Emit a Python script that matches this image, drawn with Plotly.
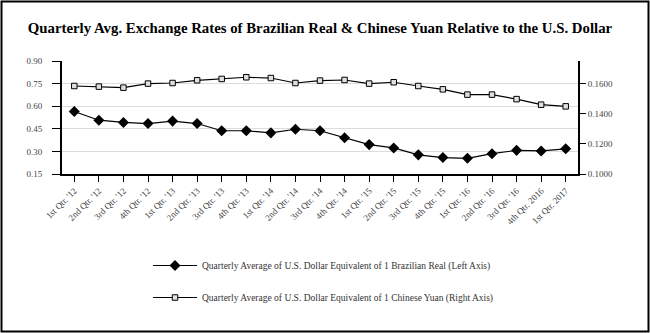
import plotly.graph_objects as go

quarters = ["1st Qtr. '12", "2nd Qtr. '12", "3rd Qtr. '12", "4th Qtr. '12",
            "1st Qtr. '13", "2nd Qtr. '13", "3rd Qtr. '13", "4th Qtr. '13",
            "1st Qtr. '14", "2nd Qtr. '14", "3rd Qtr. '14", "4th Qtr. '14",
            "1st Qtr. '15", "2nd Qtr. '15", "3rd Qtr. '15", "4th Qtr. '15",
            "1st Qtr. '16", "2nd Qtr. '16", "3rd Qtr. '16", "4th Qtr. 2016",
            "1st Qtr. 2017"]
brl = [0.565, 0.507, 0.492, 0.485, 0.501, 0.485, 0.437, 0.437, 0.423, 0.447,
       0.437, 0.390, 0.345, 0.323, 0.277, 0.259, 0.254, 0.285, 0.307, 0.303, 0.317]
cny = [0.1584, 0.1580, 0.1573, 0.1600, 0.1604, 0.1622, 0.1631, 0.1642, 0.1637, 0.1604,
       0.1620, 0.1624, 0.1600, 0.1609, 0.1584, 0.1562, 0.1527, 0.1527, 0.1497, 0.1460, 0.1449]

serif = "Liberation Serif, Times New Roman, serif"

fig = go.Figure()
fig.add_trace(go.Scatter(
    x=quarters, y=brl, mode="lines+markers",
    name="Quarterly Average of U.S. Dollar Equivalent of 1 Brazilian Real (Left Axis)",
    line=dict(color="black", width=1.2),
    marker=dict(symbol="diamond", size=8.5, color="black"),
    legendgroup="a", yaxis="y"))
fig.add_trace(go.Scatter(
    x=quarters, y=cny, mode="lines+markers",
    name="Quarterly Average of U.S. Dollar Equivalent of 1 Chinese Yuan (Right Axis)",
    line=dict(color="black", width=1.2),
    marker=dict(symbol="square", size=5.5, color="#e0e0e0", line=dict(color="black", width=1)),
    legendgroup="b", yaxis="y2"))

W0, W1, H0, H1 = 62, 578, 61, 174
pw, ph = W1 - W0, H1 - H0

def px(x):
    return (x - W0) / pw

def py(y):
    return (H1 - y) / ph

fig.update_layout(
    width=650, height=333,
    margin=dict(l=W0, r=650 - W1, t=H0, b=333 - H1, pad=0),
    paper_bgcolor="white", plot_bgcolor="white",
    font=dict(family=serif, color="#444", size=9),
    title=dict(text="<b>Quarterly Avg. Exchange Rates of Brazilian Real &amp; Chinese Yuan Relative to the U.S. Dollar</b>",
               x=0.5, xref="paper", xanchor="center", y=1 - 28 / 333, yanchor="middle",
               font=dict(family=serif, size=14.8, color="black")),
    xaxis=dict(type="category", range=[-0.5, len(quarters) - 0.5],
               showline=True, linecolor="black", linewidth=2,
               ticks="outside", ticklen=6, tickcolor="black", tickwidth=1,
               tickangle=-45, showgrid=False, tickfont=dict(size=9, color="#444")),
    yaxis=dict(range=[0.15, 0.90], tickvals=[0.15, 0.30, 0.45, 0.60, 0.75, 0.90],
               tickformat=".2f", showline=True, linecolor="black", linewidth=2,
               ticks="outside", ticklen=8, tickcolor="black", ticklabelstandoff=8,
               showgrid=True, gridcolor="#dcdcdc", gridwidth=1, zeroline=False,
               tickfont=dict(size=9, color="#444")),
    yaxis2=dict(range=[0.10, 0.175], tickvals=[0.10, 0.12, 0.14, 0.16],
                tickformat=".4f", overlaying="y", side="right",
                showline=True, linecolor="black", linewidth=2,
                ticks="outside", ticklen=6, tickcolor="black",
                showgrid=False, zeroline=False, tickfont=dict(size=9, color="#444")),
    showlegend=True,
    legend=dict(x=px(148), y=py(251), xanchor="left", yanchor="top",
                traceorder="grouped", tracegroupgap=13, itemwidth=44,
                font=dict(family=serif, size=9.5, color="#333"),
                bgcolor="rgba(0,0,0,0)"),
    shapes=[dict(type="rect", xref="paper", yref="paper",
                 x0=px(1.5), x1=px(648.5), y0=py(331.5), y1=py(1.5),
                 line=dict(color="black", width=2), fillcolor="rgba(0,0,0,0)")],
)

fig.write_html("out.html")
